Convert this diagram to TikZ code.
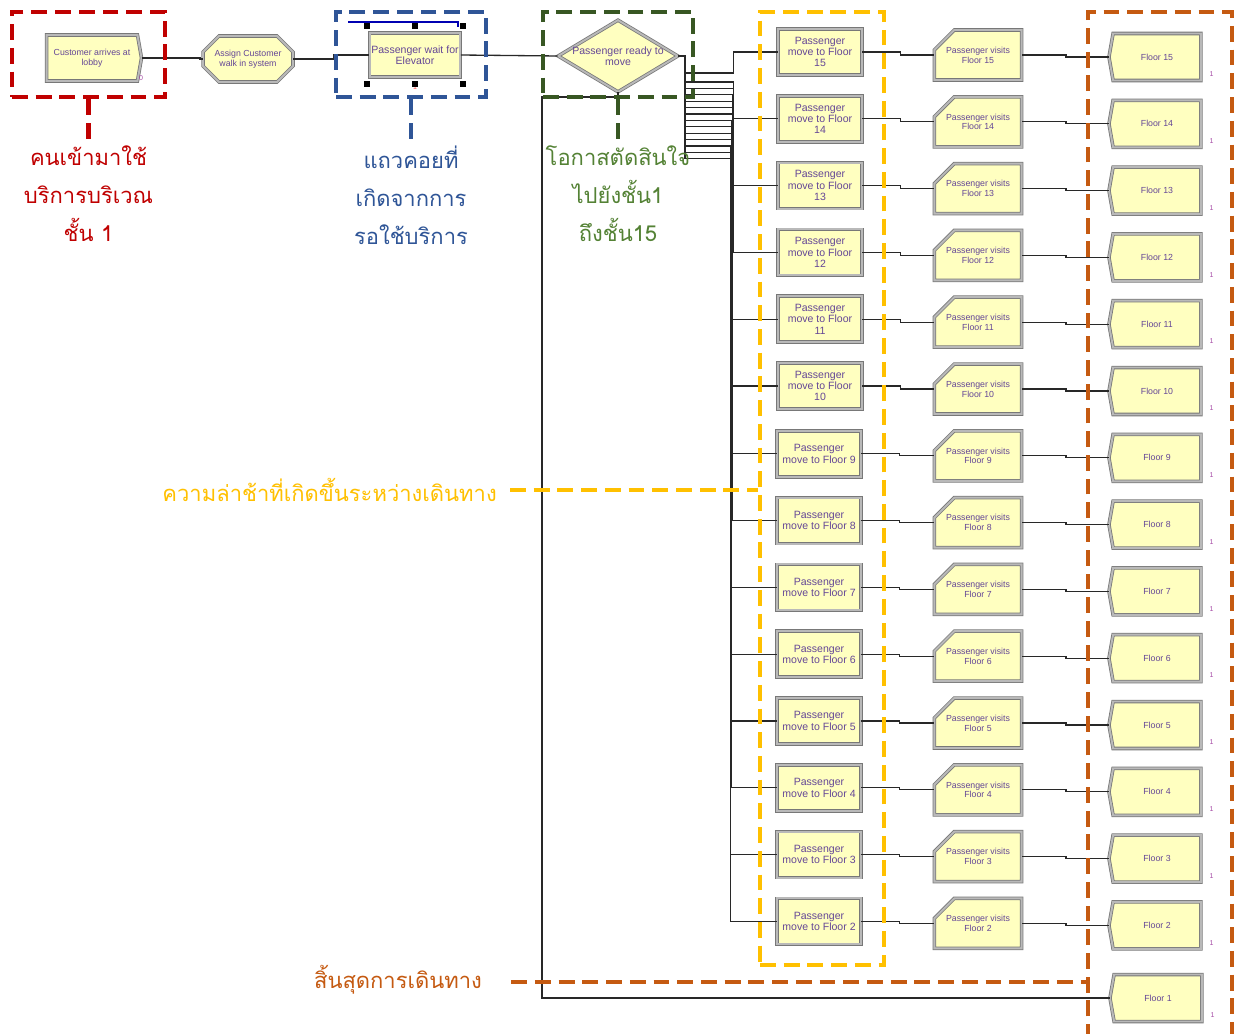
\documentclass[tikz,border=0pt]{standalone}
\usepackage{fontspec}
\setmainfont{Liberation Sans}
\newfontfamily\thaifont[Script=Thai]{Loma}
\usepackage{tikz}
\usetikzlibrary{positioning,fit,calc,shapes.geometric,shapes.misc,shapes.symbols}

\definecolor{modfill}{RGB}{255,255,192}
\definecolor{modedge}{RGB}{120,120,120}
\definecolor{modband}{RGB}{185,185,185}
\definecolor{modtext}{RGB}{100,70,150}
\definecolor{linkc}{RGB}{40,40,40}
\definecolor{redc}{RGB}{192,0,0}
\definecolor{bluec}{RGB}{47,85,151}
\definecolor{greenc}{RGB}{56,87,35}
\definecolor{greentxt}{RGB}{84,130,53}
\definecolor{yellowc}{RGB}{255,192,0}
\definecolor{orangec}{RGB}{197,90,17}

\begin{document}
\begin{tikzpicture}[x=0.02cm, y=-0.02cm,
    module/.style={draw=modedge, double=modband, double distance=1.1pt, line width=0.45pt,
      fill=modfill, text=modtext, align=center, inner sep=1pt, font=\fontsize{6}{6.4}\selectfont},
    movebox/.style={module, minimum width=1.68cm, minimum height=0.92cm},
    visitbox/.style={module, chamfered rectangle, chamfered rectangle corners=north west,
      chamfered rectangle xsep=0.2cm, chamfered rectangle ysep=0.2cm,
      minimum width=1.72cm, minimum height=1cm, font=\fontsize{5}{5.6}\selectfont},
    disposebox/.style={module, signal, signal to=west, signal from=nowhere, signal pointer angle=160,
      minimum width=1.84cm, minimum height=0.94cm, font=\fontsize{5}{5.6}\selectfont},
    createbox/.style={module, signal, signal to=east, signal from=nowhere, signal pointer angle=160,
      minimum width=1.9cm, minimum height=0.92cm, font=\fontsize{5}{5.6}\selectfont},
    assignbox/.style={module, chamfered rectangle, chamfered rectangle xsep=0.16cm,
      chamfered rectangle ysep=0.16cm, minimum width=1.8cm, minimum height=0.92cm,
      font=\fontsize{5}{5.6}\selectfont},
    decidebox/.style={module, diamond, aspect=1.67, minimum width=2.4cm, minimum height=1.44cm, inner sep=0pt},
    tag/.style={font=\fontsize{4}{4}\selectfont, text=violet!70, inner sep=0pt},
    link/.style={draw=linkc, line width=0.75pt},
    callout/.style={draw=#1, line width=2.6pt, dash pattern=on 9pt off 4.5pt, inner sep=0pt},
    lead/.style={draw=#1, line width=2.6pt, dash pattern=on 9pt off 4.5pt},
    note/.style={text=#1, font=\thaifont\fontsize{12.5}{21.6}\selectfont, align=center, inner sep=0pt}
  ]
    \fill[white] (0,0) rectangle (1237,1034);
    \useasboundingbox (0,0) rectangle (1237,1034);

    % arrival, assign, queue and decision
    \node[createbox] (arrive) at (92,58) {Customer arrives at\\lobby};
    \node[assignbox] (assign) at (248,59) {Assign Customer\\walk in system};
    \node[movebox, minimum width=1.72cm, minimum height=0.88cm] (wait) at (415,55) {Passenger wait for\\Elevator};
    \node[decidebox, label={[text=modtext, align=center, font=\fontsize{6}{6.4}\selectfont]center:Passenger ready to\\move}] (ready) at (618,56) {};
    \node[tag, anchor=south west] (arrivetag) at ([xshift=0.02cm]arrive.south east) {0};
    \node[tag, text=red!70, anchor=north] (waittag) at ([yshift=-0.14cm]wait.south) {1};

    % selected queue module
    \node[fit=(wait), inner xsep=0.04cm, inner ysep=0.12cm] (waitsel) {};
    \foreach \a in {north west,north,north east,south west,south,south east}
      \fill (waitsel.\a) +(-3,-3) rectangle +(3,3);
    \draw[blue!70!black, line width=0.7pt] (348,22) -- (458,22) -- (458,27);

    \draw[link] (arrive.east) -- ++(58,0) |- (assign.west);
    \draw[link] (assign.east) -- ++(40,0) |- (wait.west);
    \draw[link] (wait.east) -- (ready.west);

    % one row per floor
    \foreach \n in {2,...,15} {
      \pgfmathsetmacro\ry{52+(15-\n)*66.8}
      \ifnum\n>9
        \node[movebox] (move\n) at (820,\ry) {Passenger\\move to Floor\\\n};
      \else
        \node[movebox] (move\n) at (819,\ry+1) {Passenger\\move to Floor \n};
      \fi
      \node[visitbox] (visit\n) at (978,\ry+3) {Passenger visits\\Floor \n};
      \node[disposebox] (floor\n) at (1157,\ry+5) {Floor \n};
      \node[tag, anchor=south west] (tag\n) at ([xshift=0.16cm,yshift=0.06cm]floor\n.south east) {1};
      \draw[link] (move\n.east) -- ++(38,0) |- (visit\n.west);
      \draw[link] (visit\n.east) -- ++(44,0) |- (floor\n.west);
    }
    \node[disposebox] (floor1) at (1158,998) {Floor 1};
    \node[tag, anchor=south west] (tag1) at ([xshift=0.16cm,yshift=0.06cm]floor1.south east) {1};

    % decision exits
    \coordinate (exit15) at (685,73);
    \foreach \n in {2,...,14} {
      \pgfmathsetmacro\ey{82+(14-\n)*6.4}
      \coordinate (exit\n) at (685,\ey);
    }
    \foreach \n in {2,...,15}
      \draw[link] (ready.east) -| (exit\n) -- ++(45+0.25*\n,0) |- (move\n.west);
    \coordinate (bypass) at (542,97);
    \draw[link] (ready.south) |- (bypass) |- (floor1.west);

    % callouts
    \node[callout=redc, fit={(12,12) (165,97)}] (arrivebox) {};
    \node[callout=bluec, fit={(336,12) (486,97)}] (waitbox) {};
    \node[callout=greenc, fit={(543,12) (693,97)}] (readybox) {};
    \node[callout=yellowc, fit={(760,12) (884,965)}] (delaybox) {};
    \draw[lead=orangec] (1088,1040) -- (1088,12) -- (1232,12) -- (1232,1040);
    \coordinate (endedge) at (1088,982);

    \node[note=redc, below=0.92cm of arrivebox] (arrivenote) {คนเข้ามาใช้\\บริการบริเวณ\\ชั้น 1};
    \node[note=bluec, below=0.92cm of waitbox] (waitnote) {แถวคอยที่\\เกิดจากการ\\รอใช้บริการ};
    \node[note=greentxt, below=0.92cm of readybox] (readynote) {โอกาสตัดสินใจ\\ไปยังชั้น1\\ถึงชั้น15};
    \node[note=yellowc, anchor=east] (delaynote) at (497,490) {ความล่าช้าที่เกิดขึ้นระหว่างเดินทาง};
    \node[note=orangec] (endnote) at (398,980) {สิ้นสุดการเดินทาง};

    \draw[lead=redc] (arrivebox.south) -- ++(0,43);
    \draw[lead=bluec] (waitbox.south) -- ++(0,43);
    \draw[lead=greenc] (readybox.south) -- ++(0,43);
    \draw[lead=yellowc] ([xshift=0.26cm]delaynote.east) -- (delaynote.east -| delaybox.west);
    \draw[lead=orangec] ([xshift=0.58cm]endnote.east |- endedge) -- (endedge);
\end{tikzpicture}
\end{document}
